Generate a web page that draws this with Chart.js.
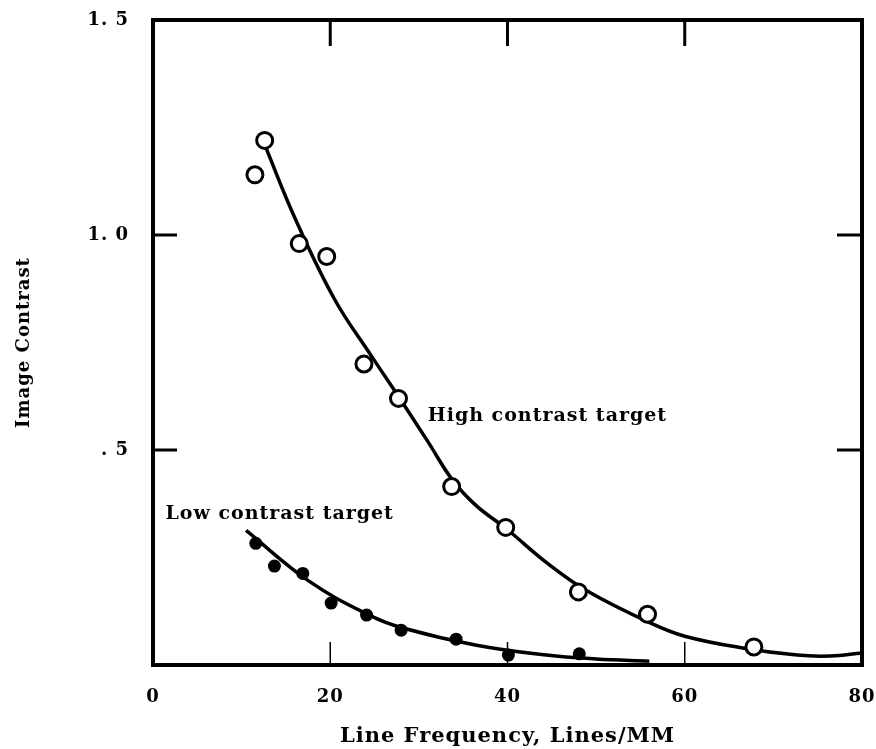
<!DOCTYPE html>
<html>
<head>
<meta charset="utf-8">
<script src="https://cdn.jsdelivr.net/npm/chart.js@4.4.1/dist/chart.umd.min.js"></script>
<style>
  html, body { margin: 0; padding: 0; background: #fff; }
  #wrap { width: 876px; height: 749px; }
</style>
</head>
<body>
<div id="wrap"><canvas id="contrastChart" width="876" height="749"></canvas></div>
<script>
// measured points, high contrast target (open circles)
const highX = [11.5, 12.6, 16.5, 19.6, 23.8, 27.7, 33.7, 39.8, 48.0, 55.8, 67.8];
const highY = [1.14, 1.22, 0.98, 0.95, 0.70, 0.62, 0.415, 0.32, 0.17, 0.118, 0.042];

// measured points, low contrast target (filled dots)
const lowX = [11.6, 13.7, 16.9, 20.1, 24.1, 28.0, 34.2, 40.1, 48.1];
const lowY = [0.283, 0.23, 0.213, 0.144, 0.116, 0.081, 0.06, 0.023, 0.026];

// hand-drawn fitted curves
const highCurveX = [12.6, 16.0, 20.5, 24.6, 28.0, 31.0, 33.8, 36.5, 39.8, 44.6, 49.0, 56.2, 60.0, 66.7, 72.7, 76.4, 80.0];
const highCurveY = [1.21, 1.04, 0.85, 0.72, 0.615, 0.52, 0.43, 0.37, 0.318, 0.235, 0.172, 0.097, 0.067, 0.039, 0.023, 0.021, 0.028];
const lowCurveX = [10.5, 17.6, 24.4, 28.2, 36.5, 44.4, 50.0, 56.0];
const lowCurveY = [0.313, 0.195, 0.116, 0.086, 0.046, 0.023, 0.014, 0.009];

// axes
const xTicks = [0, 20, 40, 60, 80];
const yTicks = [0.5, 1.0, 1.5];
const yTickText = ['. 5', '1. 0', '1. 5'];
const labelHigh = 'High contrast target';
const labelLow = 'Low contrast target';

const SERIF = '"DejaVu Serif", "Liberation Serif", serif';
const toPts = (xs, ys) => xs.map((x, i) => ({ x: x, y: ys[i] }));

// no extra room for edge labels, the plot box is fixed
function zeroPadding(s) {
  s.paddingLeft = 0;
  s.paddingRight = 0;
  s.paddingTop = 0;
  s.paddingBottom = 0;
}

// frame, inward tick marks and curve labels
const framePlugin = {
  id: 'frame',
  beforeLayout(chart) { chart.ctx.letterSpacing = '1px'; },
  beforeDraw(chart) {
    const ctx = chart.ctx;
    ctx.letterSpacing = '1px';
    ctx.save();
    ctx.fillStyle = '#fff';
    ctx.fillRect(0, 0, chart.width, chart.height);
    ctx.restore();
  },
  afterDraw(chart) {
    const ctx = chart.ctx;
    const { left, right, top, bottom } = chart.chartArea;
    const xs = chart.scales.x;
    const ys = chart.scales.y;
    ctx.save();
    ctx.strokeStyle = '#000';
    ctx.lineCap = 'butt';

    // tick marks pointing into the plot
    ctx.lineWidth = 3;
    [20, 40, 60].forEach(v => {
      const px = xs.getPixelForValue(v);
      ctx.beginPath();
      ctx.moveTo(px, top);
      ctx.lineTo(px, top + 26);
      ctx.stroke();
    });
    yTicks.slice(0, 2).forEach(v => {
      const py = ys.getPixelForValue(v);
      ctx.beginPath();
      ctx.moveTo(left, py);
      ctx.lineTo(left + 24, py);
      ctx.moveTo(right, py);
      ctx.lineTo(right - 25, py);
      ctx.stroke();
    });
    ctx.lineWidth = 1.5;
    [20, 40, 60].forEach(v => {
      const px = xs.getPixelForValue(v);
      ctx.beginPath();
      ctx.moveTo(px, bottom);
      ctx.lineTo(px, bottom - 23);
      ctx.stroke();
    });

    // heavy border
    ctx.lineWidth = 4;
    ctx.lineJoin = 'miter';
    ctx.strokeRect(left, top, right - left, bottom - top);

    // curve labels
    ctx.fillStyle = '#000';
    ctx.font = 'bold 19px ' + SERIF;
    ctx.textBaseline = 'middle';
    ctx.textAlign = 'left';
    ctx.fillText(labelHigh, xs.getPixelForValue(31.0), ys.getPixelForValue(0.58));
    ctx.fillText(labelLow, xs.getPixelForValue(1.4), ys.getPixelForValue(0.35));
    ctx.restore();
  }
};

new Chart(document.getElementById('contrastChart'), {
  type: 'scatter',
  data: {
    datasets: [
      {
        label: 'High contrast',
        data: toPts(highX, highY),
        pointStyle: 'circle',
        pointRadius: 8,
        pointBorderWidth: 3,
        pointBackgroundColor: '#fff',
        pointBorderColor: '#000',
        showLine: false,
        order: 0
      },
      {
        label: 'Low contrast',
        data: toPts(lowX, lowY),
        pointStyle: 'circle',
        pointRadius: 6.5,
        pointBorderWidth: 0,
        pointBackgroundColor: '#000',
        pointBorderColor: '#000',
        showLine: false,
        order: 0
      },
      {
        label: 'High fit',
        data: toPts(highCurveX, highCurveY),
        showLine: true,
        borderColor: '#000',
        borderWidth: 3.5,
        pointRadius: 0,
        tension: 0.4,
        order: 1
      },
      {
        label: 'Low fit',
        data: toPts(lowCurveX, lowCurveY),
        showLine: true,
        borderColor: '#000',
        borderWidth: 3.5,
        pointRadius: 0,
        tension: 0.4,
        order: 1
      }
    ]
  },
  options: {
    responsive: false,
    animation: false,
    events: [],
    layout: { autoPadding: false, padding: { left: 0, right: 14, top: 20, bottom: 0 } },
    plugins: {
      legend: { display: false },
      tooltip: { enabled: false },
      title: { display: false }
    },
    scales: {
      x: {
        type: 'linear',
        min: 0,
        max: 80,
        afterBuildTicks: s => { s.ticks = xTicks.map(v => ({ value: v })); },
        afterFit: s => { s.height = 84; zeroPadding(s); },
        grid: { display: false, drawTicks: false },
        border: { display: false },
        ticks: {
          color: '#000',
          padding: 22,
          maxRotation: 0,
          font: { family: SERIF, size: 18, weight: 'bold' }
        },
        title: {
          display: true,
          text: 'Line Frequency, Lines/MM',
          color: '#000',
          padding: { top: 0, bottom: 0 },
          font: { family: SERIF, size: 21, weight: 'bold' }
        }
      },
      y: {
        type: 'linear',
        min: 0,
        max: 1.5,
        afterBuildTicks: s => { s.ticks = yTicks.map(v => ({ value: v })); },
        afterFit: s => { s.width = 153; zeroPadding(s); },
        grid: { display: false, drawTicks: false },
        border: { display: false },
        ticks: {
          color: '#000',
          padding: 24,
          font: { family: SERIF, size: 18, weight: 'bold' },
          callback: v => yTickText[yTicks.indexOf(v)] ?? ''
        },
        title: {
          display: true,
          text: 'Image Contrast',
          color: '#000',
          padding: { top: 14, bottom: 0 },
          font: { family: SERIF, size: 18, weight: 'bold' }
        }
      }
    }
  },
  plugins: [framePlugin]
});
</script>
</body>
</html>
